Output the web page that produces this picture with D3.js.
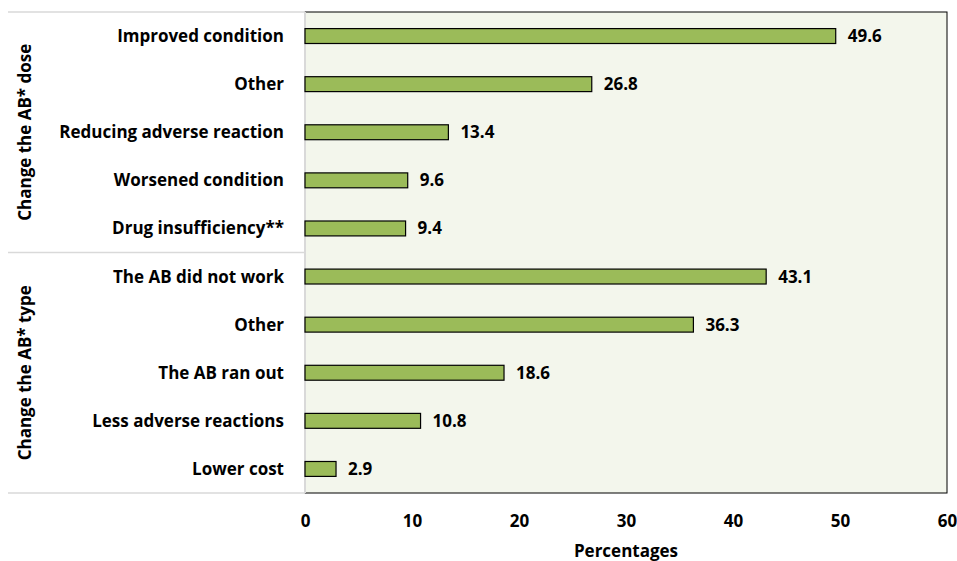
<!DOCTYPE html>
<html>
<head>
<meta charset="utf-8">
<title>AB change reasons</title>
<script src="https://d3js.org/d3.v7.min.js"></script>
<style>
  body { margin: 0; background: #fff; }
  svg text { font-family: "Open Sans", Lato, sans-serif; font-weight: bold; fill: #000; }
</style>
</head>
<body>
<div id="chart"></div>
<script>
// data
var groups = ["Change the AB* dose", "Change the AB* type"];
var categories = [
  "Improved condition", "Other", "Reducing adverse reaction", "Worsened condition", "Drug insufficiency**",
  "The AB did not work", "Other", "The AB ran out", "Less adverse reactions", "Lower cost"
];
var groupOf = [0, 0, 0, 0, 0, 1, 1, 1, 1, 1];
var values = [49.6, 26.8, 13.4, 9.6, 9.4, 43.1, 36.3, 18.6, 10.8, 2.9];
var xTicks = [0, 10, 20, 30, 40, 50, 60];

var W = 957, H = 561;
var pLeft = 305, pRight = 947, pTop = 12, pBottom = 493;
var fs = 17;

var svg = d3.select("#chart").append("svg")
  .attr("width", W).attr("height", H);

var x = d3.scaleLinear().domain([0, 60]).range([pLeft, pRight]);
var y = d3.scaleBand().domain(d3.range(categories.length)).range([pTop, pBottom]).paddingInner(0.69).paddingOuter(0.345);
var band = d3.scaleBand().domain(d3.range(categories.length)).range([pTop, pBottom]);

// plot area
svg.append("rect")
  .attr("x", pLeft).attr("y", pTop)
  .attr("width", pRight - pLeft).attr("height", pBottom - pTop)
  .attr("fill", "#f3f6ec").attr("stroke", "#000").attr("stroke-width", 1);
svg.append("line")
  .attr("x1", pLeft).attr("x2", pLeft).attr("y1", pTop).attr("y2", pBottom)
  .attr("stroke", "#d9d9d9").attr("stroke-width", 2);

// multi-level axis separators
var seps = [pTop, band(5), pBottom];
svg.selectAll("line.sep").data(seps).enter().append("line")
  .attr("class", "sep")
  .attr("x1", 8).attr("x2", pLeft)
  .attr("y1", function(d){ return d; }).attr("y2", function(d){ return d; })
  .attr("stroke", "#d9d9d9").attr("stroke-width", 1.5);

// bars
svg.selectAll("rect.bar").data(values).enter().append("rect")
  .attr("class", "bar")
  .attr("x", x(0))
  .attr("y", function(d, i){ return y(i); })
  .attr("width", function(d){ return x(d) - x(0); })
  .attr("height", y.bandwidth())
  .attr("fill", "#9bbb59").attr("stroke", "#000").attr("stroke-width", 1.2);

// value labels
svg.selectAll("text.val").data(values).enter().append("text")
  .attr("class", "val")
  .attr("x", function(d){ return x(d) + 12; })
  .attr("y", function(d, i){ return band(i) + band.bandwidth() / 2; })
  .attr("dy", "0.35em")
  .attr("font-size", fs)
  .text(function(d){ return d.toFixed(1); });

// category labels
svg.selectAll("text.cat").data(categories).enter().append("text")
  .attr("class", "cat")
  .attr("x", 284)
  .attr("y", function(d, i){ return band(i) + band.bandwidth() / 2; })
  .attr("dy", "0.35em")
  .attr("text-anchor", "end")
  .attr("font-size", fs)
  .text(function(d){ return d; });

// group labels
svg.selectAll("text.grp").data(groups).enter().append("text")
  .attr("class", "grp")
  .attr("transform", function(d, gi){
    var idx = d3.range(categories.length).filter(function(i){ return groupOf[i] === gi; });
    var cy = (band(idx[0]) + band(idx[idx.length - 1]) + band.bandwidth()) / 2;
    return "translate(25," + cy + ") rotate(-90)";
  })
  .attr("dy", "0.35em")
  .attr("text-anchor", "middle")
  .attr("font-size", fs)
  .text(function(d){ return d; });

// x axis
var xAxis = svg.append("g")
  .attr("transform", "translate(0," + pBottom + ")")
  .call(d3.axisBottom(x).tickValues(xTicks).tickSize(0));
xAxis.select(".domain").remove();
xAxis.selectAll("text")
  .attr("y", 28).attr("dy", "0.35em")
  .attr("font-size", fs)
  .style("font-family", "'Open Sans', Lato, sans-serif")
  .style("font-weight", "bold")
  .attr("fill", "#000");

svg.append("text")
  .attr("x", (pLeft + pRight) / 2)
  .attr("y", 551)
  .attr("dy", "0.35em")
  .attr("text-anchor", "middle")
  .attr("font-size", fs)
  .text("Percentages");
</script>
</body>
</html>
